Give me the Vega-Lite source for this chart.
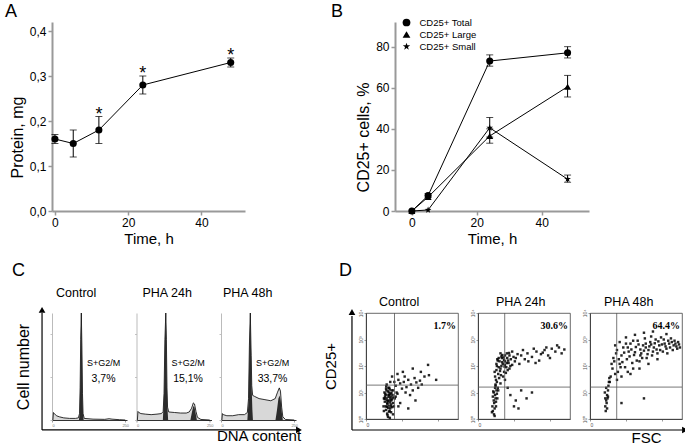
{
"$schema":"https://vega.github.io/schema/vega-lite/v6.json",
"background":"white",
"padding":{"left":5,"top":3,"right":0,"bottom":0},
"config":{
 "font":"Liberation Sans",
 "view":{"stroke":null},
 "axis":{"labelFont":"Liberation Sans","titleFont":"Liberation Sans","labelFontSize":12,"labelColor":"black","titleColor":"black","titleFontWeight":"normal","grid":false,"domainColor":"#999","domainWidth":2,"tickColor":"#999","tickWidth":1.5,"tickSize":4,"labelPadding":2},
 "title":{"font":"Liberation Sans","fontWeight":"normal","color":"black","fontSize":12.5}
},
"datasets":{
 "protein":[
  {"time":0,"protein":0.16,"low":0.15,"high":0.17,"sig":""},
  {"time":5,"protein":0.15,"low":0.12,"high":0.18,"sig":""},
  {"time":12,"protein":0.18,"low":0.15,"high":0.21,"sig":"*"},
  {"time":24,"protein":0.28,"low":0.26,"high":0.30,"sig":"*"},
  {"time":48,"protein":0.33,"low":0.32,"high":0.34,"sig":"*"}
 ],
 "cd25":[
  {"series":"CD25+ Total","time":0,"value":0},
  {"series":"CD25+ Total","time":5,"value":7.5,"low":6.5,"high":8.5},
  {"series":"CD25+ Total","time":24,"value":73,"low":70.5,"high":76},
  {"series":"CD25+ Total","time":48,"value":77,"low":74.5,"high":80},
  {"series":"CD25+ Large","time":0,"value":0},
  {"series":"CD25+ Large","time":5,"value":6.8},
  {"series":"CD25+ Large","time":24,"value":36.5,"low":33,"high":40},
  {"series":"CD25+ Large","time":48,"value":60.5,"low":55.5,"high":66},
  {"series":"CD25+ Small","time":0,"value":0},
  {"series":"CD25+ Small","time":5,"value":0.5},
  {"series":"CD25+ Small","time":24,"value":40.5,"low":36,"high":45.5},
  {"series":"CD25+ Small","time":48,"value":15.5,"low":14,"high":17.5}
 ],
 "cycle":[
  {"panel":"Control","label":"S+G2/M","pct":"3,7%"},
  {"panel":"PHA 24h","label":"S+G2/M","pct":"15,1%"},
  {"panel":"PHA 48h","label":"S+G2/M","pct":"33,7%"}
 ],
 "hist":[
  {"panel":"Control","part":"all","ch":3,"count":0},{"panel":"Control","part":"all","ch":5,"count":0.07},{"panel":"Control","part":"all","ch":8,"count":0.06},{"panel":"Control","part":"all","ch":15,"count":0.04},{"panel":"Control","part":"all","ch":25,"count":0.03},{"panel":"Control","part":"all","ch":40,"count":0.02},{"panel":"Control","part":"all","ch":60,"count":0.015},{"panel":"Control","part":"all","ch":80,"count":0.015},{"panel":"Control","part":"all","ch":90,"count":0.02},{"panel":"Control","part":"all","ch":94,"count":0.06},{"panel":"Control","part":"all","ch":96,"count":0.3},{"panel":"Control","part":"all","ch":98,"count":0.75},{"panel":"Control","part":"all","ch":100,"count":1.0},{"panel":"Control","part":"all","ch":102,"count":0.7},{"panel":"Control","part":"all","ch":104,"count":0.25},{"panel":"Control","part":"all","ch":106,"count":0.06},{"panel":"Control","part":"all","ch":110,"count":0.015},{"panel":"Control","part":"all","ch":140,"count":0.008},{"panel":"Control","part":"all","ch":180,"count":0.006},{"panel":"Control","part":"all","ch":195,"count":0.012},{"panel":"Control","part":"all","ch":205,"count":0.008},{"panel":"Control","part":"all","ch":230,"count":0.003},{"panel":"Control","part":"all","ch":250,"count":0},
  {"panel":"Control","part":"G1","ch":92,"count":0},{"panel":"Control","part":"G1","ch":94,"count":0.06},{"panel":"Control","part":"G1","ch":96,"count":0.3},{"panel":"Control","part":"G1","ch":98,"count":0.75},{"panel":"Control","part":"G1","ch":100,"count":1.0},{"panel":"Control","part":"G1","ch":102,"count":0.7},{"panel":"Control","part":"G1","ch":104,"count":0.25},{"panel":"Control","part":"G1","ch":106,"count":0.06},{"panel":"Control","part":"G1","ch":108,"count":0},
  {"panel":"PHA 24h","part":"all","ch":3,"count":0},{"panel":"PHA 24h","part":"all","ch":5,"count":0.08},{"panel":"PHA 24h","part":"all","ch":8,"count":0.07},{"panel":"PHA 24h","part":"all","ch":15,"count":0.06},{"panel":"PHA 24h","part":"all","ch":30,"count":0.055},{"panel":"PHA 24h","part":"all","ch":50,"count":0.05},{"panel":"PHA 24h","part":"all","ch":70,"count":0.055},{"panel":"PHA 24h","part":"all","ch":85,"count":0.06},{"panel":"PHA 24h","part":"all","ch":91,"count":0.08},{"panel":"PHA 24h","part":"all","ch":94,"count":0.25},{"panel":"PHA 24h","part":"all","ch":97,"count":0.75},{"panel":"PHA 24h","part":"all","ch":100,"count":1.0},{"panel":"PHA 24h","part":"all","ch":102,"count":0.75},{"panel":"PHA 24h","part":"all","ch":104,"count":0.3},{"panel":"PHA 24h","part":"all","ch":106,"count":0.12},{"panel":"PHA 24h","part":"all","ch":110,"count":0.075},{"panel":"PHA 24h","part":"all","ch":130,"count":0.07},{"panel":"PHA 24h","part":"all","ch":150,"count":0.065},{"panel":"PHA 24h","part":"all","ch":170,"count":0.065},{"panel":"PHA 24h","part":"all","ch":180,"count":0.075},{"panel":"PHA 24h","part":"all","ch":188,"count":0.11},{"panel":"PHA 24h","part":"all","ch":194,"count":0.16},{"panel":"PHA 24h","part":"all","ch":198,"count":0.15},{"panel":"PHA 24h","part":"all","ch":203,"count":0.08},{"panel":"PHA 24h","part":"all","ch":208,"count":0.025},{"panel":"PHA 24h","part":"all","ch":220,"count":0.005},{"panel":"PHA 24h","part":"all","ch":250,"count":0},
  {"panel":"PHA 24h","part":"G1","ch":90,"count":0},{"panel":"PHA 24h","part":"G1","ch":94,"count":0.25},{"panel":"PHA 24h","part":"G1","ch":97,"count":0.75},{"panel":"PHA 24h","part":"G1","ch":100,"count":1.0},{"panel":"PHA 24h","part":"G1","ch":102,"count":0.75},{"panel":"PHA 24h","part":"G1","ch":104,"count":0.3},{"panel":"PHA 24h","part":"G1","ch":106,"count":0.1},{"panel":"PHA 24h","part":"G1","ch":108,"count":0},
  {"panel":"PHA 24h","part":"G2","ch":184,"count":0},{"panel":"PHA 24h","part":"G2","ch":189,"count":0.07},{"panel":"PHA 24h","part":"G2","ch":194,"count":0.13},{"panel":"PHA 24h","part":"G2","ch":198,"count":0.12},{"panel":"PHA 24h","part":"G2","ch":202,"count":0.06},{"panel":"PHA 24h","part":"G2","ch":206,"count":0},
  {"panel":"PHA 48h","part":"all","ch":3,"count":0},{"panel":"PHA 48h","part":"all","ch":5,"count":0.06},{"panel":"PHA 48h","part":"all","ch":8,"count":0.05},{"panel":"PHA 48h","part":"all","ch":20,"count":0.04},{"panel":"PHA 48h","part":"all","ch":40,"count":0.04},{"panel":"PHA 48h","part":"all","ch":60,"count":0.05},{"panel":"PHA 48h","part":"all","ch":80,"count":0.05},{"panel":"PHA 48h","part":"all","ch":90,"count":0.07},{"panel":"PHA 48h","part":"all","ch":94,"count":0.2},{"panel":"PHA 48h","part":"all","ch":97,"count":0.7},{"panel":"PHA 48h","part":"all","ch":100,"count":1.0},{"panel":"PHA 48h","part":"all","ch":103,"count":0.6},{"panel":"PHA 48h","part":"all","ch":105,"count":0.32},{"panel":"PHA 48h","part":"all","ch":108,"count":0.23},{"panel":"PHA 48h","part":"all","ch":115,"count":0.22},{"panel":"PHA 48h","part":"all","ch":130,"count":0.2},{"panel":"PHA 48h","part":"all","ch":150,"count":0.19},{"panel":"PHA 48h","part":"all","ch":170,"count":0.18},{"panel":"PHA 48h","part":"all","ch":185,"count":0.2},{"panel":"PHA 48h","part":"all","ch":193,"count":0.26},{"panel":"PHA 48h","part":"all","ch":199,"count":0.3},{"panel":"PHA 48h","part":"all","ch":203,"count":0.27},{"panel":"PHA 48h","part":"all","ch":207,"count":0.12},{"panel":"PHA 48h","part":"all","ch":211,"count":0.03},{"panel":"PHA 48h","part":"all","ch":220,"count":0.005},{"panel":"PHA 48h","part":"all","ch":250,"count":0},
  {"panel":"PHA 48h","part":"G1","ch":90,"count":0},{"panel":"PHA 48h","part":"G1","ch":94,"count":0.18},{"panel":"PHA 48h","part":"G1","ch":97,"count":0.7},{"panel":"PHA 48h","part":"G1","ch":100,"count":1.0},{"panel":"PHA 48h","part":"G1","ch":103,"count":0.6},{"panel":"PHA 48h","part":"G1","ch":105,"count":0.28},{"panel":"PHA 48h","part":"G1","ch":107,"count":0.1},{"panel":"PHA 48h","part":"G1","ch":109,"count":0},
  {"panel":"PHA 48h","part":"G2","ch":186,"count":0},{"panel":"PHA 48h","part":"G2","ch":191,"count":0.09},{"panel":"PHA 48h","part":"G2","ch":196,"count":0.2},{"panel":"PHA 48h","part":"G2","ch":200,"count":0.23},{"panel":"PHA 48h","part":"G2","ch":204,"count":0.18},{"panel":"PHA 48h","part":"G2","ch":208,"count":0.06},{"panel":"PHA 48h","part":"G2","ch":211,"count":0}
 ],
 "facs_panels":[
  {"panel":"Control","pct":"1.7%","gate_fsc":317,"gate_cd25":19},
  {"panel":"PHA 24h","pct":"30.6%","gate_fsc":297,"gate_cd25":16},
  {"panel":"PHA 48h","pct":"64.4%","gate_fsc":297,"gate_cd25":16}
 ],
 "facs_control":[
  {"fsc":199,"cd25":2},{"fsc":219,"cd25":3},{"fsc":239,"cd25":4},{"fsc":259,"cd25":5},{"fsc":279,"cd25":3.5},{"fsc":229,"cd25":6},{"fsc":249,"cd25":8},{"fsc":269,"cd25":2.5},{"fsc":209,"cd25":4.5},{"fsc":289,"cd25":5.5},
  {"fsc":235,"cd25":1.6},{"fsc":255,"cd25":1.9},{"fsc":275,"cd25":7},{"fsc":215,"cd25":9},{"fsc":243,"cd25":11},{"fsc":263,"cd25":13},{"fsc":223,"cd25":2.2},{"fsc":299,"cd25":4},{"fsc":195,"cd25":3},{"fsc":283,"cd25":9.5},
  {"fsc":251,"cd25":3.2},{"fsc":231,"cd25":5},{"fsc":271,"cd25":6},{"fsc":211,"cd25":7},{"fsc":291,"cd25":2.8},{"fsc":239,"cd25":1.4},{"fsc":259,"cd25":15},{"fsc":227,"cd25":12},{"fsc":247,"cd25":2.6},{"fsc":267,"cd25":4.2},
  {"fsc":207,"cd25":5.8},{"fsc":279,"cd25":1.8},{"fsc":303,"cd25":6.5},{"fsc":219,"cd25":8},{"fsc":255,"cd25":10},{"fsc":235,"cd25":3.8},{"fsc":275,"cd25":3},{"fsc":199,"cd25":6},{"fsc":295,"cd25":8},{"fsc":243,"cd25":4.8},
  {"fsc":263,"cd25":2},{"fsc":223,"cd25":14},{"fsc":251,"cd25":6.8},{"fsc":271,"cd25":9},{"fsc":231,"cd25":2.9},{"fsc":245,"cd25":1.2},{"fsc":265,"cd25":1.1},{"fsc":225,"cd25":17},{"fsc":285,"cd25":12},{"fsc":205,"cd25":10},
  {"fsc":260,"cd25":8},{"fsc":300,"cd25":12},{"fsc":330,"cd25":18},{"fsc":350,"cd25":9},{"fsc":380,"cd25":22},{"fsc":400,"cd25":14},{"fsc":420,"cd25":25},{"fsc":450,"cd25":16},{"fsc":470,"cd25":30},{"fsc":500,"cd25":20},
  {"fsc":520,"cd25":12},{"fsc":540,"cd25":35},{"fsc":560,"cd25":24},{"fsc":600,"cd25":28},{"fsc":650,"cd25":40},{"fsc":700,"cd25":45},{"fsc":280,"cd25":5},{"fsc":320,"cd25":6},{"fsc":360,"cd25":30},{"fsc":440,"cd25":10},
  {"fsc":250,"cd25":15},{"fsc":490,"cd25":8},{"fsc":580,"cd25":15},{"fsc":620,"cd25":20},{"fsc":270,"cd25":25},{"fsc":410,"cd25":60},{"fsc":310,"cd25":3},{"fsc":380,"cd25":4},{"fsc":230,"cd25":20},{"fsc":350,"cd25":50},
  {"fsc":470,"cd25":2.5},{"fsc":330,"cd25":7},{"fsc":340,"cd25":10},{"fsc":360,"cd25":3},{"fsc":315,"cd25":25},{"fsc":290,"cd25":40},{"fsc":430,"cd25":40},{"fsc":780,"cd25":30},{"fsc":300,"cd25":1.5},{"fsc":550,"cd25":5},
  {"fsc":520,"cd25":80},{"fsc":610,"cd25":60},{"fsc":690,"cd25":110}
 ],
 "facs_pha24":[
  {"fsc":200,"cd25":30},{"fsc":225,"cd25":50},{"fsc":250,"cd25":80},{"fsc":275,"cd25":120},{"fsc":300,"cd25":150},{"fsc":325,"cd25":200},{"fsc":350,"cd25":250},{"fsc":210,"cd25":100},{"fsc":240,"cd25":150},{"fsc":265,"cd25":200},
  {"fsc":290,"cd25":60},{"fsc":315,"cd25":90},{"fsc":340,"cd25":130},{"fsc":365,"cd25":180},{"fsc":250,"cd25":300},{"fsc":280,"cd25":40},{"fsc":300,"cd25":250},{"fsc":330,"cd25":70},{"fsc":230,"cd25":200},{"fsc":205,"cd25":70},
  {"fsc":380,"cd25":110},{"fsc":395,"cd25":220},{"fsc":190,"cd25":40},{"fsc":210,"cd25":25},{"fsc":235,"cd25":35},{"fsc":260,"cd25":100},{"fsc":290,"cd25":170},{"fsc":320,"cd25":300},{"fsc":350,"cd25":80},{"fsc":380,"cd25":350},
  {"fsc":410,"cd25":150},{"fsc":250,"cd25":22},{"fsc":300,"cd25":30},{"fsc":205,"cd25":120},{"fsc":185,"cd25":60},{"fsc":195,"cd25":20},{"fsc":335,"cd25":160},{"fsc":360,"cd25":100},{"fsc":270,"cd25":260},{"fsc":245,"cd25":65},
  {"fsc":295,"cd25":95},{"fsc":320,"cd25":130},{"fsc":220,"cd25":160},{"fsc":255,"cd25":45},{"fsc":285,"cd25":210},{"fsc":310,"cd25":55},{"fsc":345,"cd25":310},{"fsc":420,"cd25":200},{"fsc":440,"cd25":280},{"fsc":460,"cd25":120},
  {"fsc":230,"cd25":90},{"fsc":270,"cd25":140},{"fsc":215,"cd25":180},{"fsc":300,"cd25":110},{"fsc":260,"cd25":230},
  {"fsc":160,"cd25":3},{"fsc":175,"cd25":5},{"fsc":190,"cd25":8},{"fsc":205,"cd25":12},{"fsc":165,"cd25":2},{"fsc":180,"cd25":4},{"fsc":195,"cd25":6},{"fsc":155,"cd25":1.8},{"fsc":190,"cd25":15},{"fsc":175,"cd25":10},
  {"fsc":200,"cd25":3},{"fsc":215,"cd25":6},{"fsc":165,"cd25":7},{"fsc":185,"cd25":2.5},{"fsc":210,"cd25":9},{"fsc":225,"cd25":12},{"fsc":178,"cd25":1.5},{"fsc":195,"cd25":18},{"fsc":170,"cd25":11},{"fsc":220,"cd25":15},
  {"fsc":185,"cd25":1.3},{"fsc":200,"cd25":4.5},
  {"fsc":480,"cd25":250},{"fsc":520,"cd25":180},{"fsc":550,"cd25":300},{"fsc":600,"cd25":220},{"fsc":650,"cd25":350},{"fsc":700,"cd25":280},{"fsc":740,"cd25":400},{"fsc":780,"cd25":250},{"fsc":820,"cd25":450},{"fsc":860,"cd25":350},
  {"fsc":900,"cd25":500},{"fsc":930,"cd25":300},{"fsc":960,"cd25":420},{"fsc":560,"cd25":150},{"fsc":680,"cd25":160},{"fsc":760,"cd25":500},{"fsc":500,"cd25":400},{"fsc":640,"cd25":130},{"fsc":720,"cd25":320},{"fsc":880,"cd25":600},
  {"fsc":800,"cd25":200},{"fsc":620,"cd25":450},
  {"fsc":360,"cd25":8},{"fsc":420,"cd25":5},{"fsc":480,"cd25":12},{"fsc":400,"cd25":3},{"fsc":540,"cd25":6},{"fsc":330,"cd25":15},{"fsc":600,"cd25":10},{"fsc":450,"cd25":2.5}
 ],
 "facs_pha48":[
  {"fsc":230,"cd25":40},{"fsc":250,"cd25":80},{"fsc":270,"cd25":150},{"fsc":290,"cd25":300},{"fsc":310,"cd25":60},{"fsc":330,"cd25":120},{"fsc":350,"cd25":250},{"fsc":370,"cd25":500},{"fsc":390,"cd25":90},{"fsc":410,"cd25":180},
  {"fsc":430,"cd25":350},{"fsc":450,"cd25":700},{"fsc":470,"cd25":130},{"fsc":490,"cd25":260},{"fsc":510,"cd25":520},{"fsc":530,"cd25":900},{"fsc":550,"cd25":150},{"fsc":570,"cd25":300},{"fsc":590,"cd25":600},{"fsc":610,"cd25":1100},
  {"fsc":630,"cd25":200},{"fsc":650,"cd25":400},{"fsc":670,"cd25":800},{"fsc":690,"cd25":250},{"fsc":710,"cd25":500},{"fsc":730,"cd25":1000},{"fsc":750,"cd25":300},{"fsc":770,"cd25":600},{"fsc":790,"cd25":1200},{"fsc":810,"cd25":350},
  {"fsc":830,"cd25":700},{"fsc":850,"cd25":450},{"fsc":870,"cd25":900},{"fsc":890,"cd25":500},{"fsc":910,"cd25":800},{"fsc":930,"cd25":600},{"fsc":950,"cd25":700},{"fsc":970,"cd25":450},{"fsc":990,"cd25":650},
  {"fsc":260,"cd25":200},{"fsc":280,"cd25":50},{"fsc":300,"cd25":400},{"fsc":320,"cd25":180},{"fsc":340,"cd25":90},{"fsc":360,"cd25":140},{"fsc":380,"cd25":320},{"fsc":400,"cd25":700},{"fsc":420,"cd25":60},{"fsc":440,"cd25":230},
  {"fsc":460,"cd25":420},{"fsc":480,"cd25":80},{"fsc":500,"cd25":330},{"fsc":520,"cd25":160},{"fsc":540,"cd25":650},{"fsc":560,"cd25":420},{"fsc":580,"cd25":200},{"fsc":600,"cd25":380},{"fsc":620,"cd25":700},{"fsc":640,"cd25":280},
  {"fsc":660,"cd25":550},{"fsc":680,"cd25":1300},{"fsc":700,"cd25":350},{"fsc":720,"cd25":720},{"fsc":740,"cd25":420},{"fsc":760,"cd25":850},{"fsc":780,"cd25":400},{"fsc":800,"cd25":650},{"fsc":820,"cd25":1000},{"fsc":840,"cd25":550},
  {"fsc":860,"cd25":300},{"fsc":880,"cd25":700},{"fsc":900,"cd25":1100},{"fsc":920,"cd25":400},{"fsc":940,"cd25":900},{"fsc":960,"cd25":550},{"fsc":980,"cd25":800},{"fsc":1000,"cd25":500},
  {"fsc":350,"cd25":40},{"fsc":450,"cd25":50},{"fsc":550,"cd25":80},{"fsc":650,"cd25":120},{"fsc":750,"cd25":180},{"fsc":300,"cd25":30},{"fsc":400,"cd25":1200},{"fsc":500,"cd25":1500},{"fsc":600,"cd25":1800},{"fsc":700,"cd25":2000},
  {"fsc":850,"cd25":1600},{"fsc":240,"cd25":120},{"fsc":220,"cd25":25},{"fsc":280,"cd25":600},{"fsc":330,"cd25":800},{"fsc":420,"cd25":500},{"fsc":480,"cd25":900},{"fsc":560,"cd25":250},{"fsc":620,"cd25":500},{"fsc":680,"cd25":650},
  {"fsc":170,"cd25":3},{"fsc":180,"cd25":5},{"fsc":190,"cd25":8},{"fsc":200,"cd25":12},{"fsc":175,"cd25":2},{"fsc":185,"cd25":4},{"fsc":195,"cd25":6},{"fsc":205,"cd25":18},{"fsc":165,"cd25":10},{"fsc":210,"cd25":25},
  {"fsc":180,"cd25":15},{"fsc":190,"cd25":2.5},{"fsc":200,"cd25":7},{"fsc":215,"cd25":35},{"fsc":170,"cd25":6},{"fsc":600,"cd25":6},{"fsc":350,"cd25":4}
 ]
},
"spacing":15,
"bounds":"full",
"vconcat":[
 {"spacing":150,"bounds":"flush","hconcat":[
 {"width":193,"height":189,
  "title":{"text":"A","anchor":"start","frame":"group","dx":-47,"offset":-13,"fontSize":18,"baseline":"alphabetic"},
  "data":{"name":"protein"},
  "layer":[
   {"mark":{"type":"line","color":"black","strokeWidth":1},
    "encoding":{"x":{"field":"time","type":"quantitative","title":"Time, h","scale":{"domain":[-0.8,51.9],"nice":false,"zero":false},"axis":{"values":[0,10,20,30,40,50],"titleFontSize":15,"titlePadding":3}},
     "y":{"field":"protein","type":"quantitative","title":"Protein, mg","scale":{"domain":[0,0.42],"nice":false},"axis":{"values":[0,0.1,0.2,0.3,0.4],"labelExpr":"replace(format(datum.value,'.1f'),'.',',')","titleFontSize":16,"titlePadding":4,"titleY":115}}}},
   {"mark":{"type":"errorbar","color":"black","thickness":1,"ticks":{"size":7}},
    "encoding":{"x":{"field":"time","type":"quantitative","title":"Time, h"},"y":{"field":"low","type":"quantitative","title":"Protein, mg"},"y2":{"field":"high"}}},
   {"mark":{"type":"point","shape":"circle","filled":true,"size":50,"color":"black","opacity":1},
    "encoding":{"x":{"field":"time","type":"quantitative","title":"Time, h"},"y":{"field":"protein","type":"quantitative","title":"Protein, mg"}}},
   {"mark":{"type":"text","fontSize":18,"baseline":"alphabetic","dy":3,"font":"Liberation Sans"},
    "encoding":{"x":{"field":"time","type":"quantitative","title":"Time, h"},"y":{"field":"high","type":"quantitative","title":"Protein, mg"},"text":{"field":"sig"}}}
  ]},
 {"width":194,"height":189,
  "title":{"text":"B","anchor":"start","frame":"group","dx":-64,"offset":-13,"fontSize":18,"baseline":"alphabetic"},
  "data":{"name":"cd25"},
  "layer":[
   {"mark":{"type":"line","color":"black","strokeWidth":1},
    "encoding":{"x":{"field":"time","type":"quantitative","title":"Time, h","scale":{"domain":[-5.2,54.6],"nice":false,"zero":false},"axis":{"values":[0,10,20,30,40,50],"titleFontSize":15,"titlePadding":3}},
     "y":{"field":"value","type":"quantitative","title":"CD25+ cells,  %","scale":{"domain":[0,92],"nice":false},"axis":{"values":[0,20,40,60,80],"titleFontSize":16,"titlePadding":4,"titleY":115}},
     "detail":{"field":"series"}}},
   {"transform":[{"filter":"datum.low != null"}],
    "mark":{"type":"errorbar","color":"black","thickness":1,"ticks":{"size":7}},
    "encoding":{"x":{"field":"time","type":"quantitative","title":"Time, h"},"y":{"field":"low","type":"quantitative","title":"CD25+ cells,  %"},"y2":{"field":"high"}}},
   {"mark":{"type":"point","filled":true,"size":50,"color":"black","opacity":1},
    "encoding":{"x":{"field":"time","type":"quantitative","title":"Time, h"},"y":{"field":"value","type":"quantitative","title":"CD25+ cells,  %"},
     "shape":{"field":"series","type":"nominal","scale":{"domain":["CD25+ Total","CD25+ Large","CD25+ Small"],"range":["circle","triangle-up","M0,-1L0.235,-0.324L0.951,-0.309L0.380,0.124L0.588,0.809L0,0.4L-0.588,0.809L-0.380,0.124L-0.951,-0.309L-0.235,-0.324Z"]},
      "legend":{"title":null,"orient":"none","legendX":349.5,"legendY":-4.5,"labelFontSize":9.5,"labelFont":"Liberation Sans","labelColor":"black","symbolSize":60,"symbolFillColor":"black","symbolStrokeColor":"black","rowPadding":-4,"padding":0,"labelOffset":8}}}}
  ]}
 ]},
 {"spacing":9.5,"bounds":"flush",
  "hconcat":[
 {"width":75,"height":107,
  "layer":[
   {"data":{"name":"hist"},"transform":[{"filter":"datum.panel=='Control' && datum.part=='all'"}],
    "mark":{"type":"area","color":"#c8c8c8","line":{"color":"black","strokeWidth":0.8}},
    "encoding":{"x":{"field":"ch","type":"quantitative","scale":{"domain":[0,256],"nice":false,"zero":false},"axis":{"values":[0,50,100,150,200,250],"labelFontSize":4,"labelColor":"#777","tickSize":2,"tickColor":"#555","tickWidth":0.6,"domainColor":"#333","domainWidth":1,"labelPadding":1,"title":null}},
     "y":{"field":"count","type":"quantitative","stack":null,"title":"Cell number","scale":{"domain":[0,1],"nice":false},"axis":{"values":[0,0.05,0.1,0.15,0.2,0.25,0.3,0.35,0.4,0.45,0.5,0.55,0.6,0.65,0.7,0.75,0.8,0.85,0.9,0.95,1],"labels":false,"tickSize":2,"tickColor":"#999","tickWidth":0.6,"domainColor":"#bbb","domainWidth":1,"titleFontSize":16,"titlePadding":18}}}},
   {"data":{"name":"hist"},"transform":[{"filter":"datum.panel=='Control' && datum.part!='all'"}],
    "mark":{"type":"area","color":"#2b2b2b"},
    "encoding":{"x":{"field":"ch","type":"quantitative","title":null},"y":{"field":"count","type":"quantitative","stack":null,"title":"Cell number"},"detail":{"field":"part"}}},
   {"data":{"name":"cycle"},"transform":[{"filter":"datum.panel=='Control'"}],
    "mark":{"type":"text","fontSize":9,"font":"Liberation Sans"},
    "encoding":{"x":{"datum":176},"y":{"datum":0.53},"text":{"field":"label"}}},
   {"data":{"name":"cycle"},"transform":[{"filter":"datum.panel=='Control'"}],
    "mark":{"type":"text","fontSize":10.5,"font":"Liberation Sans"},
    "encoding":{"x":{"datum":176},"y":{"datum":0.38},"text":{"field":"pct"}}},
   {"data":{"name":"cycle"},"transform":[{"filter":"datum.panel=='Control'"}],
    "mark":{"type":"text","fontSize":12.5,"font":"Liberation Sans","align":"left","baseline":"alphabetic","clip":false},
    "encoding":{"x":{"datum":13.7},"y":{"datum":1.15},"text":{"field":"panel"}}},
   {"data":{"name":"cycle"},"transform":[{"filter":"datum.panel=='Control'"}],
    "mark":{"type":"text","fontSize":18,"font":"Liberation Sans","align":"left","baseline":"alphabetic","clip":false},
    "encoding":{"x":{"datum":-136.5},"y":{"datum":1.346},"text":{"value":"C"}}},
   {"data":{"name":"cycle"},"transform":[{"filter":"datum.panel=='Control'"}],
    "mark":{"type":"rule","color":"black","strokeWidth":1.2,"clip":false},
    "encoding":{"x":{"datum":-34},"y":{"datum":-0.093},"y2":{"datum":1.0}}},
   {"data":{"name":"cycle"},"transform":[{"filter":"datum.panel=='Control'"}],
    "mark":{"type":"rule","color":"black","strokeWidth":1.2,"clip":false},
    "encoding":{"x":{"datum":-34},"x2":{"datum":836},"y":{"datum":-0.093}}},
   {"data":{"name":"cycle"},"transform":[{"filter":"datum.panel=='Control'"}],
    "mark":{"type":"point","shape":"triangle-up","filled":true,"size":45,"color":"black","opacity":1,"clip":false},
    "encoding":{"x":{"datum":-34},"y":{"datum":1.03}}},
   {"data":{"name":"cycle"},"transform":[{"filter":"datum.panel=='Control'"}],
    "mark":{"type":"point","shape":"triangle-right","filled":true,"size":45,"color":"black","opacity":1,"clip":false},
    "encoding":{"x":{"datum":843},"y":{"datum":-0.093}}}
  ]},
 {"width":75,"height":107,
  "layer":[
   {"data":{"name":"hist"},"transform":[{"filter":"datum.panel=='PHA 24h' && datum.part=='all'"}],
    "mark":{"type":"area","color":"#c8c8c8","line":{"color":"black","strokeWidth":0.8}},
    "encoding":{"x":{"field":"ch","type":"quantitative","scale":{"domain":[0,256],"nice":false,"zero":false},"axis":{"values":[0,50,100,150,200,250],"labelFontSize":4,"labelColor":"#777","tickSize":2,"tickColor":"#555","tickWidth":0.6,"domainColor":"#333","domainWidth":1,"labelPadding":1,"title":null}},
     "y":{"field":"count","type":"quantitative","stack":null,"scale":{"domain":[0,1],"nice":false},"axis":{"values":[0,0.05,0.1,0.15,0.2,0.25,0.3,0.35,0.4,0.45,0.5,0.55,0.6,0.65,0.7,0.75,0.8,0.85,0.9,0.95,1],"labels":false,"tickSize":2,"tickColor":"#999","tickWidth":0.6,"domainColor":"#bbb","domainWidth":1,"title":null}}}},
   {"data":{"name":"hist"},"transform":[{"filter":"datum.panel=='PHA 24h' && datum.part!='all'"}],
    "mark":{"type":"area","color":"#2b2b2b"},
    "encoding":{"x":{"field":"ch","type":"quantitative","title":null},"y":{"field":"count","type":"quantitative","stack":null,"title":null},"detail":{"field":"part"}}},
   {"data":{"name":"cycle"},"transform":[{"filter":"datum.panel=='PHA 24h'"}],
    "mark":{"type":"text","fontSize":9,"font":"Liberation Sans"},
    "encoding":{"x":{"datum":176},"y":{"datum":0.53},"text":{"field":"label"}}},
   {"data":{"name":"cycle"},"transform":[{"filter":"datum.panel=='PHA 24h'"}],
    "mark":{"type":"text","fontSize":10.5,"font":"Liberation Sans"},
    "encoding":{"x":{"datum":176},"y":{"datum":0.38},"text":{"field":"pct"}}},
   {"data":{"name":"cycle"},"transform":[{"filter":"datum.panel=='PHA 24h'"}],
    "mark":{"type":"text","fontSize":12.5,"font":"Liberation Sans","align":"left","baseline":"alphabetic","clip":false},
    "encoding":{"x":{"datum":20.5},"y":{"datum":1.15},"text":{"field":"panel"}}}
  ]},
 {"width":75,"height":107,
  "layer":[
   {"data":{"name":"hist"},"transform":[{"filter":"datum.panel=='PHA 48h' && datum.part=='all'"}],
    "mark":{"type":"area","color":"#c8c8c8","line":{"color":"black","strokeWidth":0.8}},
    "encoding":{"x":{"field":"ch","type":"quantitative","title":"DNA content","scale":{"domain":[0,256],"nice":false,"zero":false},"axis":{"values":[0,50,100,150,200,250],"labelFontSize":4,"labelColor":"#777","tickSize":2,"tickColor":"#555","tickWidth":0.6,"domainColor":"#333","domainWidth":1,"labelPadding":1,"titleFontSize":15,"titlePadding":1}},
     "y":{"field":"count","type":"quantitative","stack":null,"scale":{"domain":[0,1],"nice":false},"axis":{"values":[0,0.05,0.1,0.15,0.2,0.25,0.3,0.35,0.4,0.45,0.5,0.55,0.6,0.65,0.7,0.75,0.8,0.85,0.9,0.95,1],"labels":false,"tickSize":2,"tickColor":"#999","tickWidth":0.6,"domainColor":"#bbb","domainWidth":1,"title":null}}}},
   {"data":{"name":"hist"},"transform":[{"filter":"datum.panel=='PHA 48h' && datum.part!='all'"}],
    "mark":{"type":"area","color":"#2b2b2b"},
    "encoding":{"x":{"field":"ch","type":"quantitative","title":"DNA content"},"y":{"field":"count","type":"quantitative","stack":null,"title":null},"detail":{"field":"part"}}},
   {"data":{"name":"cycle"},"transform":[{"filter":"datum.panel=='PHA 48h'"}],
    "mark":{"type":"text","fontSize":9,"font":"Liberation Sans"},
    "encoding":{"x":{"datum":176},"y":{"datum":0.53},"text":{"field":"label"}}},
   {"data":{"name":"cycle"},"transform":[{"filter":"datum.panel=='PHA 48h'"}],
    "mark":{"type":"text","fontSize":10.5,"font":"Liberation Sans"},
    "encoding":{"x":{"datum":176},"y":{"datum":0.38},"text":{"field":"pct"}}},
   {"data":{"name":"cycle"},"transform":[{"filter":"datum.panel=='PHA 48h'"}],
    "mark":{"type":"text","fontSize":12.5,"font":"Liberation Sans","align":"left","baseline":"alphabetic","clip":false},
    "encoding":{"x":{"datum":6.8},"y":{"datum":1.15},"text":{"field":"panel"}}}
  ]},
 {"width":51,"height":1,"data":{"values":[{"k":1}]},"mark":{"type":"point","opacity":0},"encoding":{}},
 {"width":92,"height":106,"view":{"stroke":"#444","strokeWidth":0.8},
  "layer":[
   {"data":{"name":"facs_control"},
    "mark":{"type":"square","size":6,"color":"black","opacity":0.85},
    "encoding":{"x":{"field":"fsc","type":"quantitative","title":null,"scale":{"domain":[0,1023],"nice":false,"zero":false},"axis":{"values":[0,50,100,150,200,250,300,350,400,450,500,550,600,650,700,750,800,850,900,950,1000,1023],"format":"d","labelExpr":"(datum.value==0||datum.value==1023)?datum.label:''","labelFontSize":5,"labelColor":"#555","labelOverlap":false,"tickSize":2,"tickColor":"#555","tickWidth":0.6,"domainColor":"#444","domainWidth":1,"labelPadding":1}},
     "y":{"field":"cd25","type":"quantitative","title":"CD25+","scale":{"type":"log","domain":[1,10000],"nice":false},"axis":{"values":[1,10,100,1000,10000],"labelExpr":"'10'+(datum.value==1?'⁰':datum.value==10?'¹':datum.value==100?'²':datum.value==1000?'³':'⁴')","labelAngle":-90,"labelFontSize":5,"labelColor":"#555","tickSize":2,"tickColor":"#555","tickWidth":0.6,"domainColor":"#444","domainWidth":1,"labelPadding":1,"titleFontSize":15,"titlePadding":20}}}},
   {"data":{"name":"facs_panels"},"transform":[{"filter":"datum.panel=='Control'"}],
    "mark":{"type":"rule","color":"#555","strokeWidth":0.8},
    "encoding":{"x":{"field":"gate_fsc","type":"quantitative","title":null}}},
   {"data":{"name":"facs_panels"},"transform":[{"filter":"datum.panel=='Control'"}],
    "mark":{"type":"rule","color":"#555","strokeWidth":0.8},
    "encoding":{"y":{"field":"gate_cd25","type":"quantitative","title":"CD25+"}}},
   {"data":{"name":"facs_panels"},"transform":[{"filter":"datum.panel=='Control'"}],
    "mark":{"type":"text","font":"Liberation Serif","fontWeight":"bold","fontSize":10,"align":"right","baseline":"middle"},
    "encoding":{"x":{"datum":1000},"y":{"datum":3200},"text":{"field":"pct"}}},
   {"data":{"name":"facs_panels"},"transform":[{"filter":"datum.panel=='Control'"}],
    "mark":{"type":"text","fontSize":12.5,"font":"Liberation Sans","align":"left","baseline":"alphabetic","clip":false},
    "encoding":{"x":{"datum":145},"y":{"datum":18370},"text":{"field":"panel"}}},
   {"data":{"name":"facs_panels"},"transform":[{"filter":"datum.panel=='Control'"}],
    "mark":{"type":"text","fontSize":18,"font":"Liberation Sans","align":"left","baseline":"alphabetic","clip":false},
    "encoding":{"x":{"datum":-300},"y":{"datum":249000},"text":{"value":"D"}}},
   {"data":{"name":"facs_panels"},"transform":[{"filter":"datum.panel=='Control'"}],
    "mark":{"type":"rule","color":"black","strokeWidth":1.2,"clip":false},
    "encoding":{"x":{"datum":-156},"y":{"datum":0.385},"y2":{"datum":7700}}},
   {"data":{"name":"facs_panels"},"transform":[{"filter":"datum.panel=='Control'"}],
    "mark":{"type":"rule","color":"black","strokeWidth":1.2,"clip":false},
    "encoding":{"x":{"datum":-156},"x2":{"datum":3514},"y":{"datum":0.385}}},
   {"data":{"name":"facs_panels"},"transform":[{"filter":"datum.panel=='Control'"}],
    "mark":{"type":"point","shape":"triangle-up","filled":true,"size":45,"color":"black","opacity":1,"clip":false},
    "encoding":{"x":{"datum":-156},"y":{"datum":10900}}},
   {"data":{"name":"facs_panels"},"transform":[{"filter":"datum.panel=='Control'"}],
    "mark":{"type":"point","shape":"triangle-right","filled":true,"size":45,"color":"black","opacity":1,"clip":false},
    "encoding":{"x":{"datum":3547},"y":{"datum":0.385}}}
  ]},
 {"width":1,"height":1,"data":{"values":[{"k":1}]},"mark":{"type":"point","opacity":0},"encoding":{}},
 {"width":92,"height":106,"view":{"stroke":"#444","strokeWidth":0.8},
  "layer":[
   {"data":{"name":"facs_pha24"},
    "mark":{"type":"square","size":6,"color":"black","opacity":0.85},
    "encoding":{"x":{"field":"fsc","type":"quantitative","title":null,"scale":{"domain":[0,1023],"nice":false,"zero":false},"axis":{"values":[0,50,100,150,200,250,300,350,400,450,500,550,600,650,700,750,800,850,900,950,1000,1023],"format":"d","labelExpr":"(datum.value==0||datum.value==1023)?datum.label:''","labelFontSize":5,"labelColor":"#555","labelOverlap":false,"tickSize":2,"tickColor":"#555","tickWidth":0.6,"domainColor":"#444","domainWidth":1,"labelPadding":1}},
     "y":{"field":"cd25","type":"quantitative","title":null,"scale":{"type":"log","domain":[1,10000],"nice":false},"axis":{"values":[1,10,100,1000,10000],"labelExpr":"'10'+(datum.value==1?'⁰':datum.value==10?'¹':datum.value==100?'²':datum.value==1000?'³':'⁴')","labelAngle":-90,"labelFontSize":5,"labelColor":"#555","tickSize":2,"tickColor":"#555","tickWidth":0.6,"domainColor":"#444","domainWidth":1,"labelPadding":1}}}},
   {"data":{"name":"facs_panels"},"transform":[{"filter":"datum.panel=='PHA 24h'"}],
    "mark":{"type":"rule","color":"#555","strokeWidth":0.8},
    "encoding":{"x":{"field":"gate_fsc","type":"quantitative","title":null}}},
   {"data":{"name":"facs_panels"},"transform":[{"filter":"datum.panel=='PHA 24h'"}],
    "mark":{"type":"rule","color":"#555","strokeWidth":0.8},
    "encoding":{"y":{"field":"gate_cd25","type":"quantitative","title":null}}},
   {"data":{"name":"facs_panels"},"transform":[{"filter":"datum.panel=='PHA 24h'"}],
    "mark":{"type":"text","font":"Liberation Serif","fontWeight":"bold","fontSize":10,"align":"right","baseline":"middle"},
    "encoding":{"x":{"datum":1000},"y":{"datum":3200},"text":{"field":"pct"}}},
   {"data":{"name":"facs_panels"},"transform":[{"filter":"datum.panel=='PHA 24h'"}],
    "mark":{"type":"text","fontSize":12.5,"font":"Liberation Sans","align":"left","baseline":"alphabetic","clip":false},
    "encoding":{"x":{"datum":200},"y":{"datum":18370},"text":{"field":"panel"}}}
  ]},
 {"width":1,"height":1,"data":{"values":[{"k":1}]},"mark":{"type":"point","opacity":0},"encoding":{}},
 {"width":92,"height":106,"view":{"stroke":"#444","strokeWidth":0.8},
  "layer":[
   {"data":{"name":"facs_pha48"},
    "mark":{"type":"square","size":6,"color":"black","opacity":0.85},
    "encoding":{"x":{"field":"fsc","type":"quantitative","title":"FSC","scale":{"domain":[0,1023],"nice":false,"zero":false},"axis":{"values":[0,50,100,150,200,250,300,350,400,450,500,550,600,650,700,750,800,850,900,950,1000,1023],"format":"d","labelExpr":"(datum.value==0||datum.value==1023)?datum.label:''","labelFontSize":5,"labelColor":"#555","labelOverlap":false,"tickSize":2,"tickColor":"#555","tickWidth":0.6,"domainColor":"#444","domainWidth":1,"labelPadding":1,"titleFontSize":15,"titlePadding":3,"titleX":71,"titleAlign":"right"}},
     "y":{"field":"cd25","type":"quantitative","title":null,"scale":{"type":"log","domain":[1,10000],"nice":false},"axis":{"values":[1,10,100,1000,10000],"labelExpr":"'10'+(datum.value==1?'⁰':datum.value==10?'¹':datum.value==100?'²':datum.value==1000?'³':'⁴')","labelAngle":-90,"labelFontSize":5,"labelColor":"#555","tickSize":2,"tickColor":"#555","tickWidth":0.6,"domainColor":"#444","domainWidth":1,"labelPadding":1}}}},
   {"data":{"name":"facs_panels"},"transform":[{"filter":"datum.panel=='PHA 48h'"}],
    "mark":{"type":"rule","color":"#555","strokeWidth":0.8},
    "encoding":{"x":{"field":"gate_fsc","type":"quantitative","title":"FSC"}}},
   {"data":{"name":"facs_panels"},"transform":[{"filter":"datum.panel=='PHA 48h'"}],
    "mark":{"type":"rule","color":"#555","strokeWidth":0.8},
    "encoding":{"y":{"field":"gate_cd25","type":"quantitative","title":null}}},
   {"data":{"name":"facs_panels"},"transform":[{"filter":"datum.panel=='PHA 48h'"}],
    "mark":{"type":"text","font":"Liberation Serif","fontWeight":"bold","fontSize":10,"align":"right","baseline":"middle"},
    "encoding":{"x":{"datum":1000},"y":{"datum":3200},"text":{"field":"pct"}}},
   {"data":{"name":"facs_panels"},"transform":[{"filter":"datum.panel=='PHA 48h'"}],
    "mark":{"type":"text","fontSize":12.5,"font":"Liberation Sans","align":"left","baseline":"alphabetic","clip":false},
    "encoding":{"x":{"datum":156},"y":{"datum":18370},"text":{"field":"panel"}}}
  ]}
 ]}
]
}
